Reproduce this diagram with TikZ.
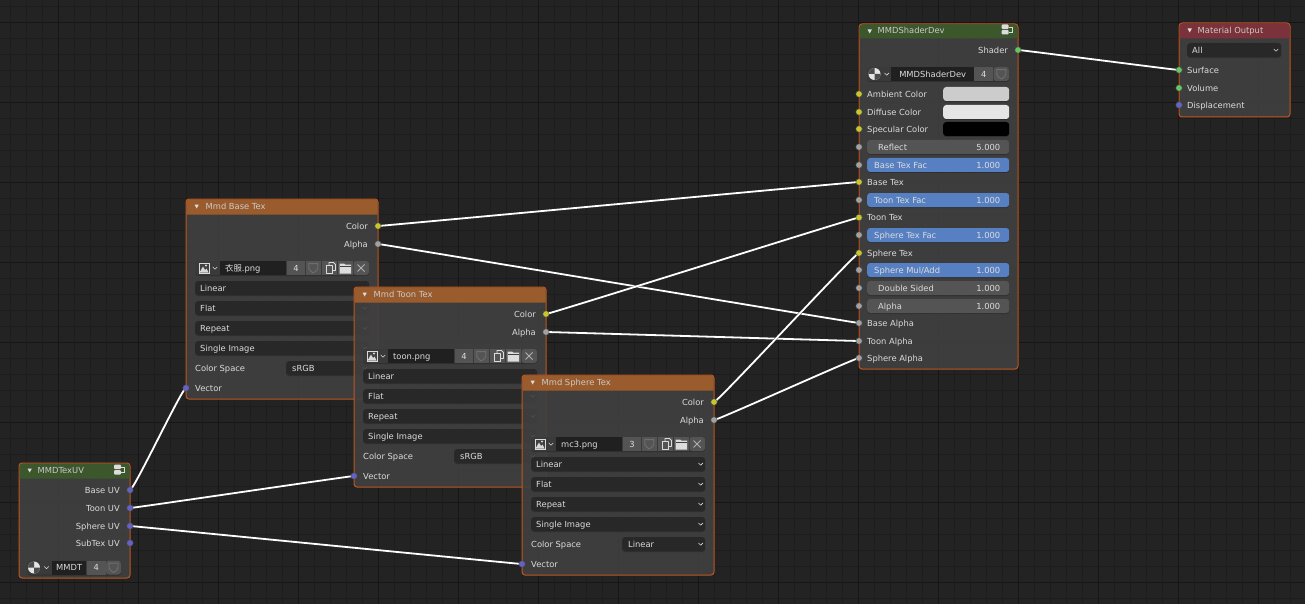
\documentclass[tikz,border=0pt]{standalone}
\usepackage{fontspec}
\setmainfont{DejaVu Sans}
\newfontfamily\cjkfont{Noto Sans CJK SC}
\definecolor{bgc}{HTML}{232323}
\definecolor{gridmin}{HTML}{1D1D1D}
\definecolor{gridmaj}{HTML}{161616}
\definecolor{bodyc}{HTML}{404040}
\definecolor{edgec}{HTML}{C0571E}
\definecolor{hdrorange}{HTML}{A5602C}
\definecolor{hdrgreen}{HTML}{3C5A2A}
\definecolor{hdrred}{HTML}{83313A}
\definecolor{txtc}{HTML}{DCDCDC}
\definecolor{sockY}{HTML}{C7C729}
\definecolor{sockG}{HTML}{A1A1A1}
\definecolor{sockB}{HTML}{6363C7}
\definecolor{sockV}{HTML}{63C763}
\definecolor{ddc}{HTML}{282828}
\definecolor{btnc}{HTML}{545454}
\definecolor{iconbtn}{HTML}{3A3A3A}
\definecolor{sldblue}{HTML}{5680C2}
\pgfdeclarelayer{gridlayer}
\pgfdeclarelayer{linklayer}
\pgfsetlayers{gridlayer,linklayer,main}
\tikzset{
  panel/.style={draw=edgec,line width=1pt,fill=bodyc,fill opacity=.9,draw opacity=1,rounded corners=3pt,inner sep=0pt},
  hdr/.style={fill opacity=.9},
  lbl/.style={font=\fontsize{8.35}{10}\selectfont,text=txtc,inner sep=0pt,yshift=-.6pt},
  ttl/.style={font=\fontsize{8.35}{10}\selectfont,text=txtc!92!black,inner sep=0pt,yshift=-.5pt},
  sock/.style={circle,fill=#1,draw=black!70,line width=.4pt,minimum size=6.4pt,inner sep=0pt},
  widget/.style={rounded corners=3pt,inner sep=0pt,minimum height=14pt,anchor=west,
     preaction={fill=black,fill opacity=.22,transform canvas={yshift=-1pt}}},
  dd/.style={widget,fill=ddc},
  graybtn/.style={inner sep=0pt,minimum height=14pt,anchor=west,fill=btnc,font=\fontsize{8.35}{10}\selectfont,text=txtc},
  rowbg/.style={widget,fill=iconbtn},
  namefield/.style={inner sep=0pt,minimum height=14pt,anchor=west,fill=ddc!80!black},
  slgray/.style={widget,fill=btnc},
  slblue/.style={widget,fill=sldblue},
  swatch/.style={widget},
  chev/.style={draw=txtc,line width=.6pt,line cap=round,line join=round},
  tri/.style={fill=txtc},
  iconline/.style={draw=#1,line width=.9pt,line join=round},
  iconline/.default=txtc!70!black,
  linkout/.style={draw=black!85,line width=3pt,opacity=.6},
  linkin/.style={draw=white,line width=1.8pt},
  minorgrid/.style={draw=gridmin,line width=1pt},
  majorgrid/.style={draw=gridmaj,line width=1.1pt}
}
% helpers (drawn relative to the current origin)
\newcommand\chevron[2]{\draw[chev] (#1-2.2,#2-1) -- (#1,#2+1.2) -- (#1+2.2,#2-1);}
\newcommand\shieldicon[2]{\draw[iconline={txtc!50!black}] (#1-4.6,#2-4.4) -- (#1+4.6,#2-4.4) -- (#1+4.4,#2+.6) .. controls (#1+3.6,#2+3) and (#1+1.5,#2+4) .. (#1,#2+5) .. controls (#1-1.5,#2+4) and (#1-3.6,#2+3) .. (#1-4.4,#2+.6) -- cycle;}
\newcommand\matcircle[2]{%
  \fill[white!90!black] (#1,#2) circle (6);
  \fill[black!70] (#1,#2) -- (#1+6,#2) arc[start angle=0,end angle=90,radius=6] -- cycle;
  \fill[black!70] (#1,#2) -- (#1-6,#2) arc[start angle=180,end angle=270,radius=6] -- cycle;}
\newcommand\groupicon[2]{%
  \fill[txtc,rounded corners=1pt] (#1-5,#2-5.5) rectangle (#1+2,#2-1);
  \fill[txtc,rounded corners=1pt] (#1-5,#2) rectangle (#1+2,#2+4.5);
  \draw[txtc,line width=.7pt] (#1+2,#2-3) -- (#1+5.5,#2-3) -- (#1+5.5,#2+2) -- (#1+2,#2+2);}
\newcommand\hdrfill[3]{% colour, width, height
  \path[fill=#1,hdr] (.5,#3) [rounded corners=3pt] -- (.5,.5) -- (#2-.5,.5) [sharp corners] -- (#2-.5,#3) -- cycle;
  \fill[tri] (8.5,5.5) -- (12.8,5.5) -- (10.7,9.5) -- cycle;}
\newcommand\imgnode[7]{% prefix x y title file count colourspace
\begin{scope}[shift={(#2,#3)}]
  \node[panel,minimum width=192pt,minimum height=200pt,name=#1] at (96,100) {};
  \hdrfill{hdrorange}{192}{15.5}
  \node[ttl,anchor=mid west,name=#1title] at (19.5,7.5) {#4};
  \node[lbl,anchor=mid east,name=#1colorlbl] at (182,27) {Color};
  \node[lbl,anchor=mid east,name=#1alphalbl] at (182,45) {Alpha};
  \node[sock=sockY,name=#1color] at (192,27) {};
  \node[sock=sockG,name=#1alpha] at (192,45) {};
  % image selector row
  \node[rowbg,minimum width=174pt,name=#1imgrow] at (9,69) {};
  \node[namefield,minimum width=66pt,name=#1imgname] at (34,69) {};
  \node[lbl,anchor=mid west,name=#1file] at (39,69) {#5};
  \node[graybtn,minimum width=18.5pt,name=#1count] at (100.5,69) {#6};
  \fill[white!85!black] (12.5,63.5) rectangle (23.5,74.5);
  \fill[black!75] (13.5,64.5) rectangle (22.5,73.5);
  \fill[white!85!black] (13.5,73.5) -- (17,67.5) -- (19,71) -- (20.5,69.5) -- (22.5,73.5) -- cycle;
  \fill[white!85!black] (20,66.5) circle (1.1);
  \chevron{29}{69}
  \fill[btnc] (119.5,62) rectangle (135,76);
  \fill[btnc] (135.5,62) rectangle (151,76);
  \fill[btnc] (151.5,62) rectangle (167,76);
  \fill[btnc,rounded corners=3pt] (167.5,62) rectangle (183,76);
  \shieldicon{127.3}{69}
  \draw[iconline={txtc}] (140.5,66) -- (140.5,74.5) -- (146.5,74.5) -- (146.5,66) -- cycle;
  \draw[iconline={txtc}] (143,66) -- (143,63.5) -- (147.5,63.5) -- (149.5,65.5) -- (149.5,71.5) -- (146.5,71.5);
  \fill[txtc] (153.5,64.5) -- (158,64.5) -- (159,65.5) -- (165,65.5) -- (165,74.5) -- (153.5,74.5) -- cycle;
  \draw[bodyc,line width=.5pt] (153.5,67) -- (165,67);
  \draw[iconline={txtc!80!black}] (171.5,65.5) -- (178.5,72.5) (178.5,65.5) -- (171.5,72.5);
  % drop-downs
  \foreach \yy/\tt/\kk in {89/Linear/a,109/Flat/b,129/Repeat/c,149/Single Image/d}{
    \node[dd,minimum width=174pt,name=#1dd\kk] at (9,\yy) {};
    \node[lbl,anchor=mid west,name=#1ddt\kk] at (14,\yy) {\tt};
    \chevron{178.7}{\yy}
  }
  \node[lbl,anchor=mid west,name=#1cslbl] at (9,169) {Color Space};
  \node[dd,minimum width=83pt,name=#1csbox] at (100,169) {};
  \node[lbl,anchor=mid west,name=#1csval] at (106,169) {#7};
  \chevron{178.7}{169}
  \node[lbl,anchor=mid west,name=#1veclbl] at (9,189) {Vector};
  \node[sock=sockB,name=#1vector] at (0,189) {};
\end{scope}}
\newcommand\sliderrow[6]{% name y style labelx label value
  \node[#3,minimum width=142pt,name=#1box] at (8,#2) {};
  \node[lbl,anchor=mid west,name=#1lbl] at (#4,#2) {#5};
  \node[lbl,anchor=mid east,name=#1val] at (141.5,#2) {#6};
  \node[sock=sockG,name=#1] at (0,#2) {};}
\newcommand\plainrow[4]{% name y colour label
  \node[lbl,anchor=mid west,name=#1lbl] at (8,#2) {#4};
  \node[sock=#3,name=#1] at (0,#2) {};}
\newcommand\colorrow[3]{% name y colour-name
  \node[swatch,fill=#3,minimum width=66pt,name=#1swatch] at (84,#2) {};}
\begin{document}
\begin{tikzpicture}[x=1pt,y=-1pt]
\useasboundingbox (0,0) rectangle (1305,604);
\begin{pgfonlayer}{gridlayer}
  \fill[bgc] (0,0) rectangle (1305,604);
  \foreach \i in {0,...,81} \draw[minorgrid] ({10.6+16*\i},0) -- ({10.6+16*\i},604);
  \foreach \i in {0,...,37} \draw[minorgrid] (0,{6.3+16*\i}) -- (1305,{6.3+16*\i});
  \foreach \i in {0,...,15} \draw[majorgrid] ({58.6+80*\i},0) -- ({58.6+80*\i},604);
  \foreach \i in {0,...,7} \draw[majorgrid] (0,{22.3+80*\i}) -- (1305,{22.3+80*\i});
\end{pgfonlayer}

% image texture nodes
\imgnode{base}{186}{199}{Mmd Base Tex}{{\cjkfont 衣服}.png}{4}{sRGB}
\imgnode{toon}{354}{287}{Mmd Toon Tex}{toon.png}{4}{sRGB}
\imgnode{sphere}{522}{375}{Mmd Sphere Tex}{mc3.png}{3}{Linear}

% MMDTexUV
\begin{scope}[shift={(19,463)}]
  \node[panel,minimum width=111pt,minimum height=115pt,name=uv] at (55.5,57.5) {};
  \hdrfill{hdrgreen}{111}{15.5}
  \node[ttl,anchor=mid west,name=uvtitle] at (18.5,7.5) {MMDTexUV};
  \groupicon{100}{7}
  \foreach \yy/\tt/\kk in {27/Base UV/uvbase,45/Toon UV/uvtoon,63/Sphere UV/uvsphere,80/SubTex UV/uvsub}{
    \node[lbl,anchor=mid east,name=\kk lbl] at (101,\yy) {\tt};
    \node[sock=sockB,name=\kk] at (111,\yy) {};
  }
  \node[rowbg,minimum width=94pt,name=uvrow] at (8,104.5) {};
  \node[namefield,minimum width=34pt,name=uvname,font=\fontsize{8.35}{10}\selectfont,text=txtc] at (33,104.5) {MMDT};
  \node[graybtn,minimum width=19pt,name=uvcount] at (67.5,104.5) {4};
  \fill[btnc,rounded corners=3pt] (87,97.5) rectangle (102,111.5);
  \shieldicon{94.5}{104.5}
  \matcircle{15}{104.5}
  \chevron{27.5}{104.5}
\end{scope}

% MMDShaderDev
\begin{scope}[shift={(859,24)}]
  \node[panel,minimum width=159pt,minimum height=345pt,name=sd] at (79.5,172.5) {};
  \hdrfill{hdrgreen}{159}{14.5}
  \node[ttl,anchor=mid west,name=sdtitle] at (18.5,6.5) {MMDShaderDev};
  \groupicon{147.5}{6}
  \node[lbl,anchor=mid east,name=sdshaderlbl] at (149,26) {Shader};
  \node[sock=sockV,name=sdshader] at (159,26) {};
  \node[rowbg,minimum width=142pt,name=sdrow] at (8,50) {};
  \node[namefield,minimum width=83pt,name=sdname,font=\fontsize{8.35}{10}\selectfont,text=txtc] at (32,50) {MMDShaderDev};
  \node[graybtn,minimum width=19pt,name=sdcount] at (115,50) {4};
  \fill[btnc,rounded corners=3pt] (134.5,43) rectangle (150,57);
  \shieldicon{142.3}{50}
  \matcircle{15.5}{50}
  \chevron{27.7}{50}
  \colorrow{sdamb}{70}{white!80!black}
  \plainrow{sdamb}{70}{sockY}{Ambient Color}
  \colorrow{sddif}{88}{white!90!black}
  \plainrow{sddif}{88}{sockY}{Diffuse Color}
  \colorrow{sdspec}{105}{black}
  \plainrow{sdspec}{105}{sockY}{Specular Color}
  \sliderrow{sdrefl}{123}{slgray}{19}{Reflect}{5.000}
  \sliderrow{sdbasefac}{141}{slblue}{15}{Base Tex Fac}{1.000}
  \plainrow{sdbase}{158}{sockY}{Base Tex}
  \sliderrow{sdtoonfac}{176}{slblue}{15}{Toon Tex Fac}{1.000}
  \plainrow{sdtoon}{193.5}{sockY}{Toon Tex}
  \sliderrow{sdspherefac}{211}{slblue}{15}{Sphere Tex Fac}{1.000}
  \plainrow{sdsphere}{229}{sockY}{Sphere Tex}
  \sliderrow{sdmul}{246}{slblue}{15}{Sphere Mul/Add}{1.000}
  \sliderrow{sddouble}{264}{slgray}{19}{Double Sided}{1.000}
  \sliderrow{sdalpha}{282}{slgray}{19}{Alpha}{1.000}
  \plainrow{sdbasea}{299}{sockG}{Base Alpha}
  \plainrow{sdtoona}{317}{sockG}{Toon Alpha}
  \plainrow{sdspherea}{334}{sockG}{Sphere Alpha}
\end{scope}

% Material Output
\begin{scope}[shift={(1179,23)}]
  \node[panel,minimum width=111pt,minimum height=94pt,name=mo] at (55.5,47) {};
  \hdrfill{hdrred}{111}{15.5}
  \node[ttl,anchor=mid west,name=motitle] at (18.5,7) {Material Output};
  \node[dd,minimum width=94pt,name=modd] at (8,27) {};
  \node[lbl,anchor=mid west,name=moddt] at (13,27) {All};
  \chevron{97}{27}
  \plainrow{mosurf}{47}{sockV}{Surface}
  \plainrow{movol}{65}{sockV}{Volume}
  \plainrow{modisp}{82}{sockB}{Displacement}
\end{scope}

% links
\begin{pgfonlayer}{linklayer}
\foreach \a/\b in {sdshader/mosurf,basecolor/sdbase,basealpha/sdbasea,tooncolor/sdtoon,toonalpha/sdtoona,spherecolor/sdsphere,spherealpha/sdspherea,uvbase/basevector,uvtoon/toonvector,uvsphere/spherevector}{
  \draw[linkout] (\a.center) .. controls +(4,0) and +(-4,0) .. (\b.center);
  \draw[linkin] (\a.center) .. controls +(4,0) and +(-4,0) .. (\b.center);
}
\end{pgfonlayer}
\end{tikzpicture}
\end{document}
